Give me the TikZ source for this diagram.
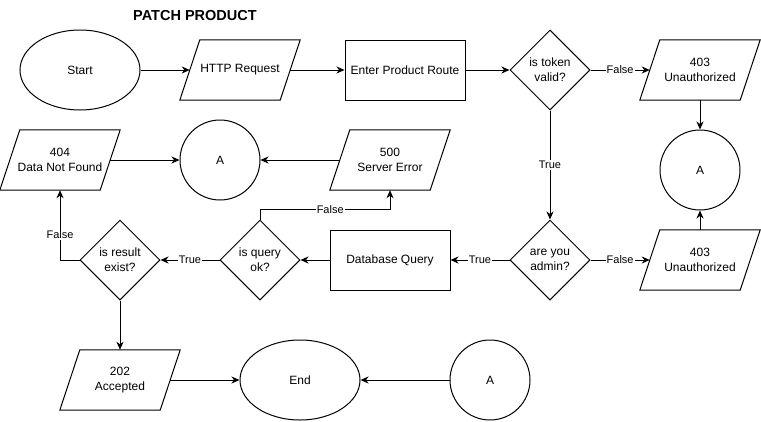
\documentclass[tikz,border=0pt]{standalone}
\usepackage{fontspec}
\setmainfont{Liberation Sans}
\usetikzlibrary{shapes.geometric,arrows.meta}
\tikzset{
  base/.style={draw, line width=1pt, inner sep=0pt, align=center, font=\fontsize{12}{15}\selectfont},
  ell/.style={base, ellipse, minimum width=120pt, minimum height=80pt},
  circ/.style={base, circle, minimum size=80pt},
  box/.style={base, rectangle, minimum width=120pt, minimum height=60pt},
  dia/.style={base, diamond, minimum width=80pt, minimum height=80pt, aspect=1},
  para/.style={inner sep=0pt, align=center, font=\fontsize{12}{15}\selectfont,
    minimum width=120pt, minimum height=60pt,
    append after command={\pgfextra{\draw[line width=1pt, line join=miter]
      ([xshift=20pt]\tikzlastnode.north west) -- (\tikzlastnode.north east)
      -- ([xshift=-20pt]\tikzlastnode.south east) -- (\tikzlastnode.south west) -- cycle;}}},
  conn/.style={line width=1pt, -{Stealth[length=8pt,width=7pt,inset=2.5pt]}},
  lbl/.style={fill=white, inner sep=1pt, font=\fontsize{11}{13}\selectfont}
}
\begin{document}
\begin{tikzpicture}[x=1pt, y=-1pt]
\useasboundingbox (0,0) rectangle (761,421);
\node[font=\fontsize{14.5}{16}\selectfont\bfseries] (title) at (195,16) {PATCH PRODUCT};
\node[ell] (start) at (80,70) {Start};
\node[para] (http) at (240,70) {HTTP Request};
\node[box] (route) at (405,70) {Enter Product Route};
\node[dia] (token) at (550,70) {is token\\valid?};
\node[para] (u1) at (700,70) {403\\Unauthorized};
\node[circ] (a1) at (700,170) {A};
\node[dia] (admin) at (550,260) {are you\\admin?};
\node[para] (u2) at (700,260) {403\\Unauthorized};
\node[box] (db) at (390,260) {Database Query};
\node[dia] (query) at (260,260) {is query\\ok?};
\node[para] (srv) at (390,160) {500\\Server Error};
\node[circ] (a2) at (220,160) {A};
\node[para] (nf) at (60,160) {404\\Data Not Found};
\node[dia] (result) at (120,260) {is result\\exist?};
\node[para] (acc) at (120,380) {202\\Accepted};
\node[ell] (end) at (300,380) {End};
\node[circ] (a3) at (490,380) {A};

\draw[conn] (start) -- ([xshift=10pt]http.west);
\draw[conn] ([xshift=-10pt]http.east) -- (route.west);
\draw[conn] (route) -- (token.west);
\draw[conn] (token.east) -- node[lbl]{False} ([xshift=10pt]u1.west);
\draw[conn] (u1.south) -- (a1.north);
\draw[conn] (token.south) -- node[lbl]{True} (admin.north);
\draw[conn] (admin.east) -- node[lbl]{False} ([xshift=10pt]u2.west);
\draw[conn] (u2.north) -- (a1.south);
\draw[conn] (admin.west) -- node[lbl]{True} (db.east);
\draw[conn] (db.west) -- (query.east);
\draw[conn] (query.north) -- ([yshift=10pt]query.north) -| node[lbl, pos=0.27]{False} (srv.south);
\draw[conn] (query.west) -- node[lbl]{True} (result.east);
\draw[conn] (result.west) -| node[lbl, pos=0.68]{False} (nf.south);
\draw[conn] ([xshift=-10pt]nf.east) -- (a2.west);
\draw[conn] ([xshift=10pt]srv.west) -- (a2.east);
\draw[conn] (result.south) -- (acc.north);
\draw[conn] ([xshift=-10pt]acc.east) -- (end.west);
\draw[conn] (a3.west) -- (end.east);
\end{tikzpicture}
\end{document}
